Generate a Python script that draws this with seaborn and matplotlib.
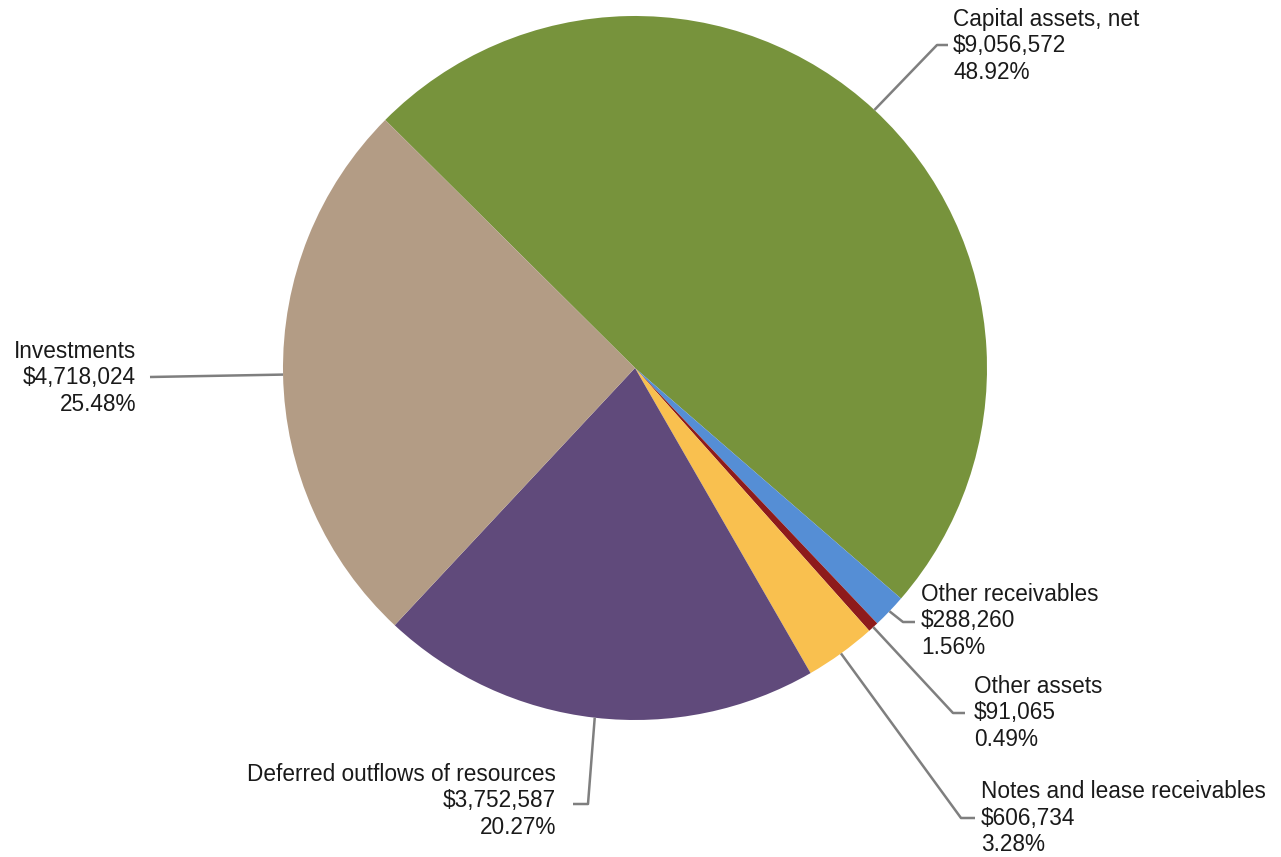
import numpy as np
import matplotlib
matplotlib.use("Agg")
import matplotlib.pyplot as plt
import seaborn as sns

# slices, clockwise from the top-left edge
categories = ["Capital assets, net", "Other receivables", "Other assets",
              "Notes and lease receivables", "Deferred outflows of resources", "Investments"]
amounts = [9056572, 288260, 91065, 606734, 3752587, 4718024]
percents = [48.92, 1.56, 0.49, 3.28, 20.27, 25.48]
colors = ["#77933C", "#558ED5", "#8E1B1B", "#F9C04F", "#604A7B", "#B39C85"]

# label layout, in pixels of the 1281x857 picture:
# (elbow x, elbow y, line end x, text x, text y, alignment)
layout = [
    (937, 45, 948, 953, 46, "left"),
    (903, 622, 915, 921, 621, "left"),
    (953, 713, 965, 974, 713, "left"),
    (961, 818, 975, 981, 818, "left"),
    (588, 804, 573, 556, 801, "right"),
    (150, 377, 150, 136, 378, "right"),
]

W, H = 1281, 857
CX, CY, R = 635, 368, 352


def px(x, y):
    # pixel -> data units (pie radius = 1)
    return (x - CX) / R, (CY - y) / R


sns.set_theme(style="white")
plt.rcParams["font.family"] = ["Liberation Sans", "DejaVu Sans"]

fig = plt.figure(figsize=(W / 100, H / 100), dpi=100)
ax = fig.add_axes([0, 0, 1, 1])

wedges, _ = ax.pie(amounts, colors=colors, startangle=135.2, counterclock=False,
                   radius=1, center=(0, 0), wedgeprops=dict(linewidth=0))

for w, name, amt, pct, lay in zip(wedges, categories, amounts, percents, layout):
    mid = np.deg2rad((w.theta1 + w.theta2) / 2)
    ax0, ay0 = np.cos(mid), np.sin(mid)
    ex, ey = px(lay[0], lay[1])
    lx, _ = px(lay[2], lay[1])
    ax.plot([ax0, ex, lx], [ay0, ey, ey], color="#7F7F7F", lw=1.8,
            solid_capstyle="butt", zorder=3)
    tx, ty = px(lay[3], lay[4])
    ax.text(tx, ty, f"{name}\n${amt:,}\n{pct:.2f}%", ha=lay[5], va="center",
            multialignment=lay[5], fontsize=16.3, color="#1A1A1A", linespacing=1.19)

x0, y0 = px(0, H)
x1, y1 = px(W, 0)
ax.set_xlim(x0, x1)
ax.set_ylim(y0, y1)
ax.set_aspect("auto")
ax.axis("off")

fig.savefig("out.png", dpi=100, facecolor="white")
